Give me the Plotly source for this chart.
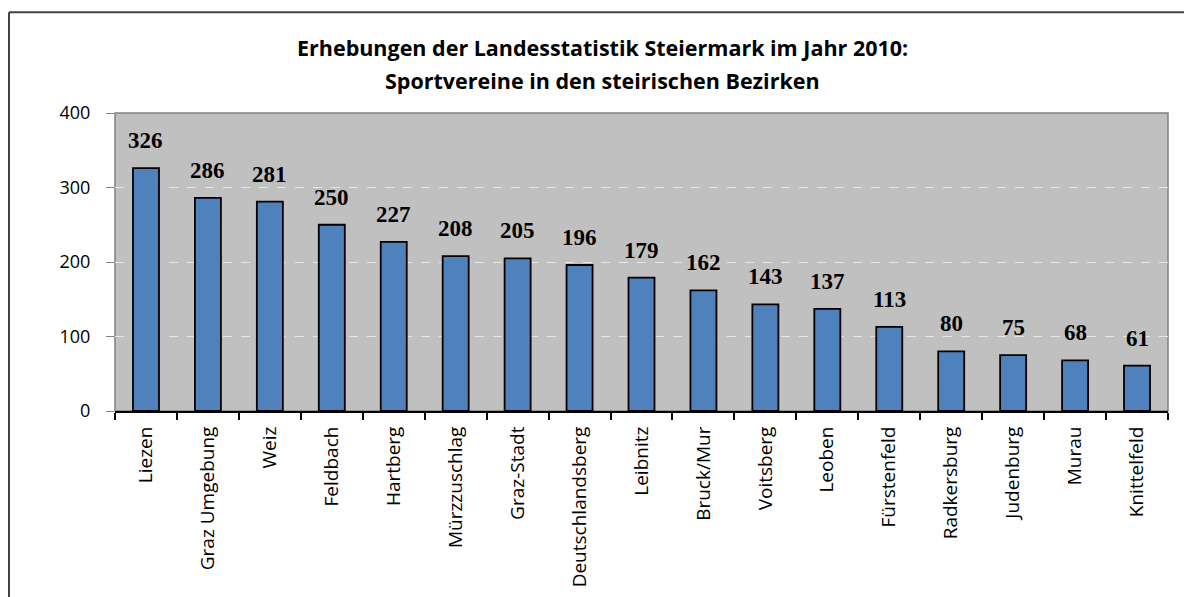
import plotly.graph_objects as go

# Sportvereine je Bezirk (Steiermark, 2010)
bezirke = ["Liezen", "Graz Umgebung", "Weiz", "Feldbach", "Hartberg", "Mürzzuschlag",
           "Graz-Stadt", "Deutschlandsberg", "Leibnitz", "Bruck/Mur", "Voitsberg",
           "Leoben", "Fürstenfeld", "Radkersburg", "Judenburg", "Murau", "Knittelfeld"]
vereine = [326, 286, 281, 250, 227, 208, 205, 196, 179, 162, 143, 137, 113, 80, 75, 68, 61]

title_lines = ["Erhebungen der Landesstatistik Steiermark im Jahr 2010:",
               "Sportvereine in den steirischen Bezirken"]

fig = go.Figure()
fig.add_trace(go.Bar(
    x=bezirke, y=vereine,
    marker=dict(color="#4F81BD", line=dict(color="black", width=1.8)),
    hoverinfo="x+y",
))

# value labels above bars
annotations = []
for b, v in zip(bezirke, vereine):
    annotations.append(dict(
        x=b, y=v, text=f"<b>{v}</b>", showarrow=False, yanchor="bottom", yshift=13,
        font=dict(family="Liberation Serif", size=23, color="black"),
    ))
# two-line title
for txt, ty in zip(title_lines, [1.221, 1.1106]):
    annotations.append(dict(
        x=0.4625, y=ty, xref="paper", yref="paper", text=f"<b>{txt}</b>",
        showarrow=False, xanchor="center", yanchor="middle",
        font=dict(family="Open Sans", size=21.5, color="black"),
    ))

fig.update_layout(
    width=1192, height=597,
    margin=dict(l=107, r=32, t=105, b=193.5),
    paper_bgcolor="white", plot_bgcolor="#C0C0C0",
    bargap=0.58, showlegend=False,
    annotations=annotations,
    font=dict(family="Open Sans", color="black"),
    shapes=[
        # plot area border
        dict(type="rect", xref="paper", yref="paper", x0=0, x1=1, y0=0, y1=1,
             line=dict(color="#808080", width=1.5), layer="below"),
        # outer frame
        dict(type="line", xref="paper", yref="paper", x0=-0.1007, x1=-0.1007, y0=1.3384, y1=-0.7,
             line=dict(color="#404040", width=2)),
        dict(type="line", xref="paper", yref="paper", x0=-0.1007, x1=1.1, y0=1.3384, y1=1.3384,
             line=dict(color="#404040", width=2)),
    ],
)
fig.update_xaxes(
    tickangle=-90, tickson="boundaries", ticks="outside", ticklen=7, tickwidth=2,
    tickcolor="black", showline=True, linecolor="black", linewidth=2,
    tickfont=dict(family="Open Sans", size=19, color="black"), ticklabelstandoff=6,
)
fig.update_yaxes(
    range=[0, 400], dtick=100, ticks="outside", ticklen=8, tickcolor="#808080",
    showgrid=True, gridcolor="#E6E6E6", griddash="dash", gridwidth=1, zeroline=False,
    showline=False, tickfont=dict(family="Open Sans", size=18, color="black"),
    ticklabelstandoff=12,
)

fig.write_html("out.html")
